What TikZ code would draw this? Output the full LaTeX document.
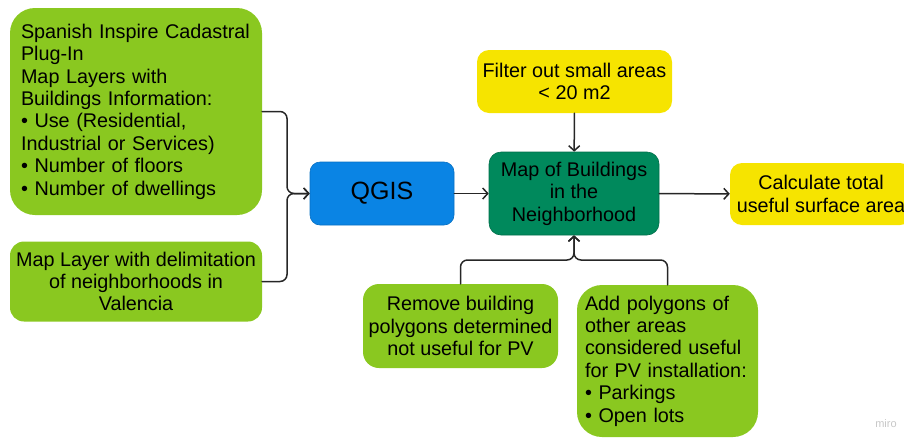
\documentclass[tikz,border=0pt]{standalone}
\usepackage{fontspec}
\setmainfont{Liberation Sans}
\usetikzlibrary{arrows.meta}

\begin{document}
\begin{tikzpicture}
		[x=1pt,y=-1pt,line cap=round,
		%Styles
		box/.style={rounded corners=12,inner sep=0pt,align=center,font=\fontsize{19.8}{22.4}\selectfont},
		greenbox/.style={box,fill=leafgreen},
		yellowbox/.style={box,fill=sunyellow},
		connector/.style={line width=1.5,draw=black!85,rounded corners=7,-{Straight Barb[length=5,width=11]}}
		]
		
		%Colors
		\definecolor{leafgreen}{RGB}{138,200,32}
		\definecolor{sunyellow}{RGB}{246,228,0}
		\definecolor{qgisblue}{RGB}{10,132,228}
		\definecolor{mapgreen}{RGB}{0,137,92}
		
		\clip (0,0) rectangle (904,437);
		
		%The graphic
		\node[greenbox,rounded corners=25,minimum width=252,minimum height=207,text width=230,align=left] (cadastral) at (136,111.5)
			{Spanish Inspire Cadastral\\Plug-In\\Map Layers with\\Buildings Information:\\• Use (Residential,\\Industrial or Services)\\• Number of floors\\• Number of dwellings};
		\node[greenbox,rounded corners=14,minimum width=252,minimum height=80] (neigh) at (136,281.5)
			{Map Layer with delimitation\\of neighborhoods in\\Valencia};
		
		\node[box,fill=qgisblue,draw=qgisblue!85!black,line width=.6,rounded corners=10,minimum width=144,minimum height=63,font=\fontsize{25}{30}\selectfont] (qgis) at (382,193.5) {QGIS};
		\node[box,fill=mapgreen,draw=mapgreen!80!black,line width=.6,minimum width=170,minimum height=83] (map) at (574,193.5)
			{Map of Buildings\\in the\\Neighborhood};
		
		\node[yellowbox,minimum width=195,minimum height=63] (filter) at (574.5,81.5) {Filter out small areas\\< 20 m2};
		\node[yellowbox,minimum width=182,minimum height=62] (calc) at (821,194) {Calculate total\\useful surface area};
		
		\node[greenbox,rounded corners=16,minimum width=195,minimum height=84] (remove) at (460.5,326)
			{Remove building\\polygons determined\\not useful for PV};
		\node[greenbox,rounded corners=25,minimum width=181,minimum height=152,text width=165,align=left] (add) at (667.5,361)
			{Add polygons of\\other areas\\considered useful\\for PV installation:\\• Parkings\\• Open lots};
		
		\coordinate (join) at (287,193.5);
		\coordinate (merge) at (574,260);
		
		\draw[connector] (cadastral.east) -| (join) -- (qgis.west);
		\draw[connector] (neigh.east) -| (join) -- (qgis.west);
		\draw[connector] (qgis) -- (map);
		\draw[connector] (filter) -- (map);
		\draw[connector] (map) -- (calc);
		\draw[connector] (remove.north) |- (merge) -- (map.south);
		\draw[connector] (add.north) |- (merge) -- (map.south);
		
		\node[text=black!22,font=\fontsize{11}{13}\selectfont] (miro) at (886,424) {miro};
	\end{tikzpicture}
\end{document}
